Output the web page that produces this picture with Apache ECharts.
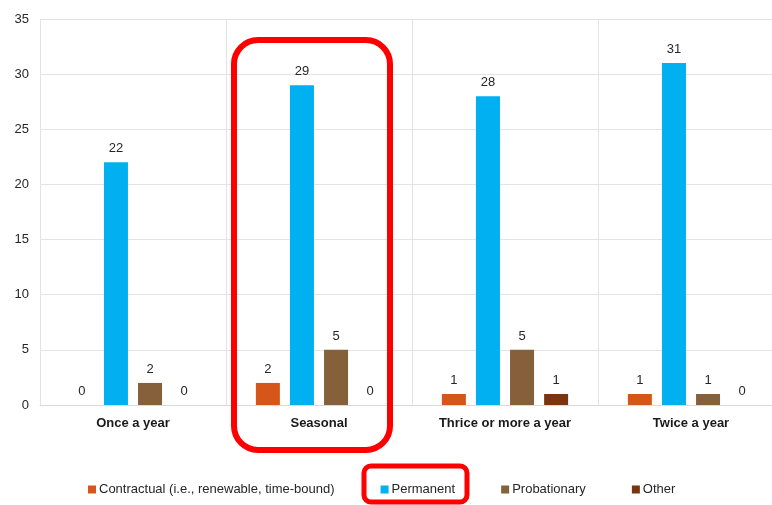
<!DOCTYPE html>
<html>
<head>
<meta charset="utf-8">
<script src="https://cdn.jsdelivr.net/npm/echarts@6/dist/echarts.min.js"></script>
<style>
  html, body { margin: 0; padding: 0; background: #fff; overflow: hidden; width: 772px; height: 505px; }
  /* the plot area runs a little past the right edge of the view */
  #chart { width: 784px; height: 505px; }
</style>
</head>
<body>
<div id="chart"></div>
<script>
// Frequency categories on the x axis
const categories = ['Once a year', 'Seasonal', 'Thrice or more a year', 'Twice a year'];

// Counts per employment type
const contractual = [0, 2, 1, 1];
const permanent = [22, 29, 28, 31];
const probationary = [2, 5, 5, 1];
const other = [0, 0, 1, 0];

const yTicks = { min: 0, max: 35, interval: 5 };

const seriesNames = ['Contractual (i.e., renewable, time-bound)', 'Permanent', 'Probationary', 'Other'];
const seriesData = [contractual, permanent, probationary, other];
const seriesColors = ['#D6561A', '#00B0F0', '#85603A', '#7B3410'];

const FONT = '"Liberation Sans", Arial, sans-serif';

const chart = echarts.init(document.getElementById('chart'), null, { renderer: 'canvas' });

const series = seriesNames.map((name, i) => ({
  name: name,
  type: 'bar',
  data: seriesData[i],
  barWidth: 24,
  barGap: '42%',
  itemStyle: { color: seriesColors[i] },
  label: {
    show: true,
    position: 'top',
    distance: 7,
    color: '#262626',
    fontFamily: FONT,
    fontSize: 13
  }
}));

chart.setOption({
  animation: false,
  backgroundColor: '#ffffff',
  textStyle: { fontFamily: FONT },
  grid: { left: 40, right: 0, top: 19, bottom: 100, containLabel: false },
  xAxis: {
    type: 'category',
    data: categories,
    axisLine: { show: true, lineStyle: { color: '#D9D9D9' } },
    axisTick: { show: false },
    splitLine: { show: true, lineStyle: { color: '#E3E3E3', width: 1 } },
    axisLabel: {
      color: '#1A1A1A',
      fontFamily: FONT,
      fontSize: 13,
      fontWeight: 'bold',
      margin: 12
    }
  },
  yAxis: {
    type: 'value',
    min: yTicks.min,
    max: yTicks.max,
    interval: yTicks.interval,
    axisLine: { show: false },
    axisTick: { show: false },
    splitLine: { lineStyle: { color: '#E3E3E3', width: 1 } },
    axisLabel: { color: '#262626', fontFamily: FONT, fontSize: 13, margin: 11 }
  },
  legend: {
    bottom: 4,
    left: 83,
    itemWidth: 8,
    itemHeight: 8,
    itemGap: 46,
    icon: 'rect',
    textStyle: { color: '#262626', fontFamily: FONT, fontSize: 13, padding: [0, 0, 0, -2] },
    data: seriesNames
  },
  graphic: [
    {
      type: 'rect',
      shape: { x: 234, y: 40, width: 156, height: 410, r: 24 },
      style: { fill: 'none', stroke: '#FF0000', lineWidth: 6 },
      z: 100
    },
    {
      type: 'rect',
      shape: { x: 364, y: 466, width: 103, height: 36, r: 7 },
      style: { fill: 'none', stroke: '#FF0000', lineWidth: 5 },
      z: 100
    }
  ],
  series: series
});
</script>
</body>
</html>
